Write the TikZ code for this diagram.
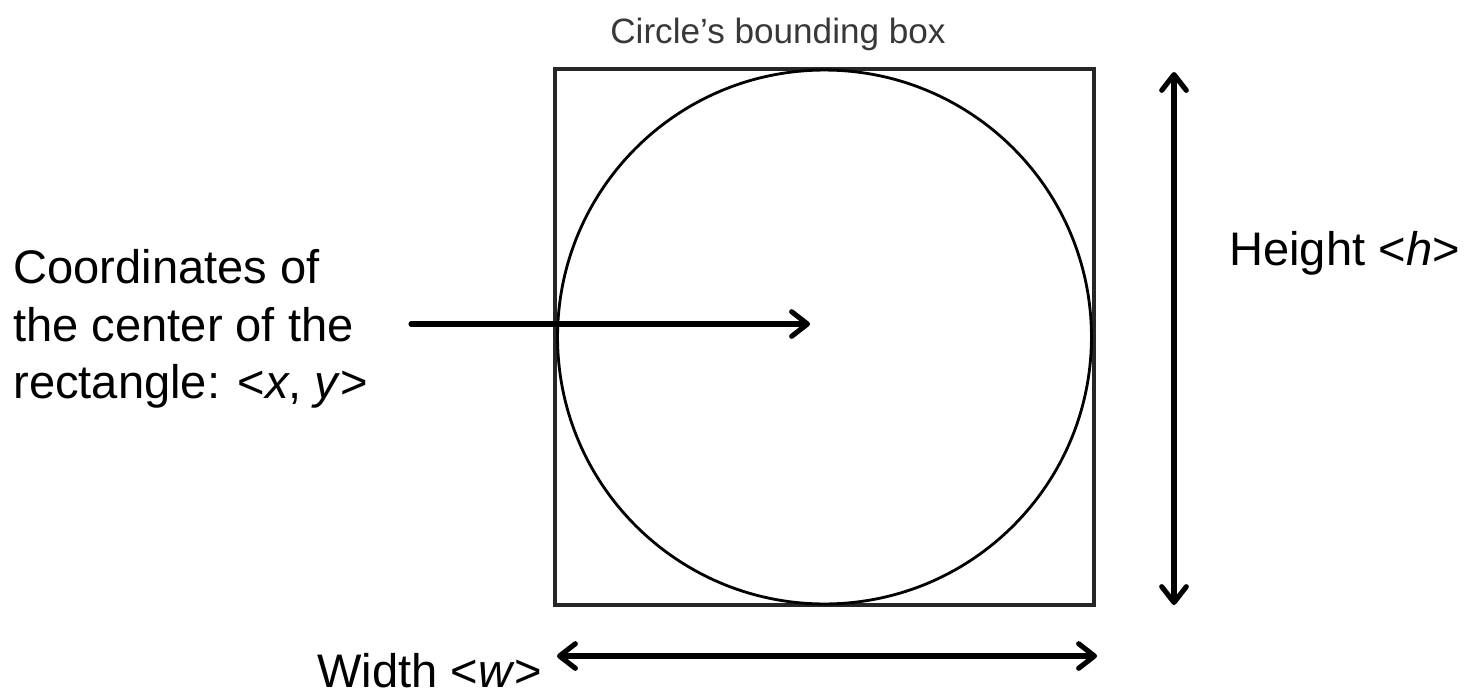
\documentclass[tikz,border=0pt]{standalone}
\usepackage{fontspec}
\setmainfont{Liberation Sans}
\usetikzlibrary{arrows.meta}
\begin{document}
\begin{tikzpicture}[x=0.02cm,y=-0.02cm,>={Straight Barb[length=9pt,width=14pt,round]},
  lbl/.style={font=\fontsize{26.8}{32.6}\selectfont,inner sep=0pt},
  dim/.style={line width=2.9pt,line cap=round}]
\useasboundingbox (0,0) rectangle (1464,697);
\node[draw=black!85,line width=2.2pt,minimum width=10.78cm,minimum height=10.72cm,inner sep=0pt] (bbox) at (824.5,337) {};
\node[draw,circle,line width=1.6pt,minimum size=10.68cm,inner sep=0pt] (circ) at (bbox.center) {};
\node[font=\fontsize{20}{24}\selectfont,text=black!78,anchor=base] (title) at (778,43) {Circle's bounding box};
\node[lbl,align=left,anchor=west] (center) at (13,329) {Coordinates of\\the center of the\\rectangle: <\textit{x}, \textit{y}>};
\node[lbl,anchor=base west] (height) at (1229,265) {Height <\textit{h}>};
\node[lbl,anchor=base west] (width) at (317,687) {Width <\textit{w}>};
\coordinate (cstart) at (411,324);
\coordinate (cend) at (810,324);
\coordinate (htop) at (1174,72);
\coordinate (hbot) at (1174,605);
\coordinate (wleft) at (557,656);
\coordinate (wright) at (1097,656);
\draw[dim,->] (cstart) -- (cend);
\draw[dim,<->] (htop) -- (hbot);
\draw[dim,<->] (wleft) -- (wright);
\end{tikzpicture}
\end{document}
